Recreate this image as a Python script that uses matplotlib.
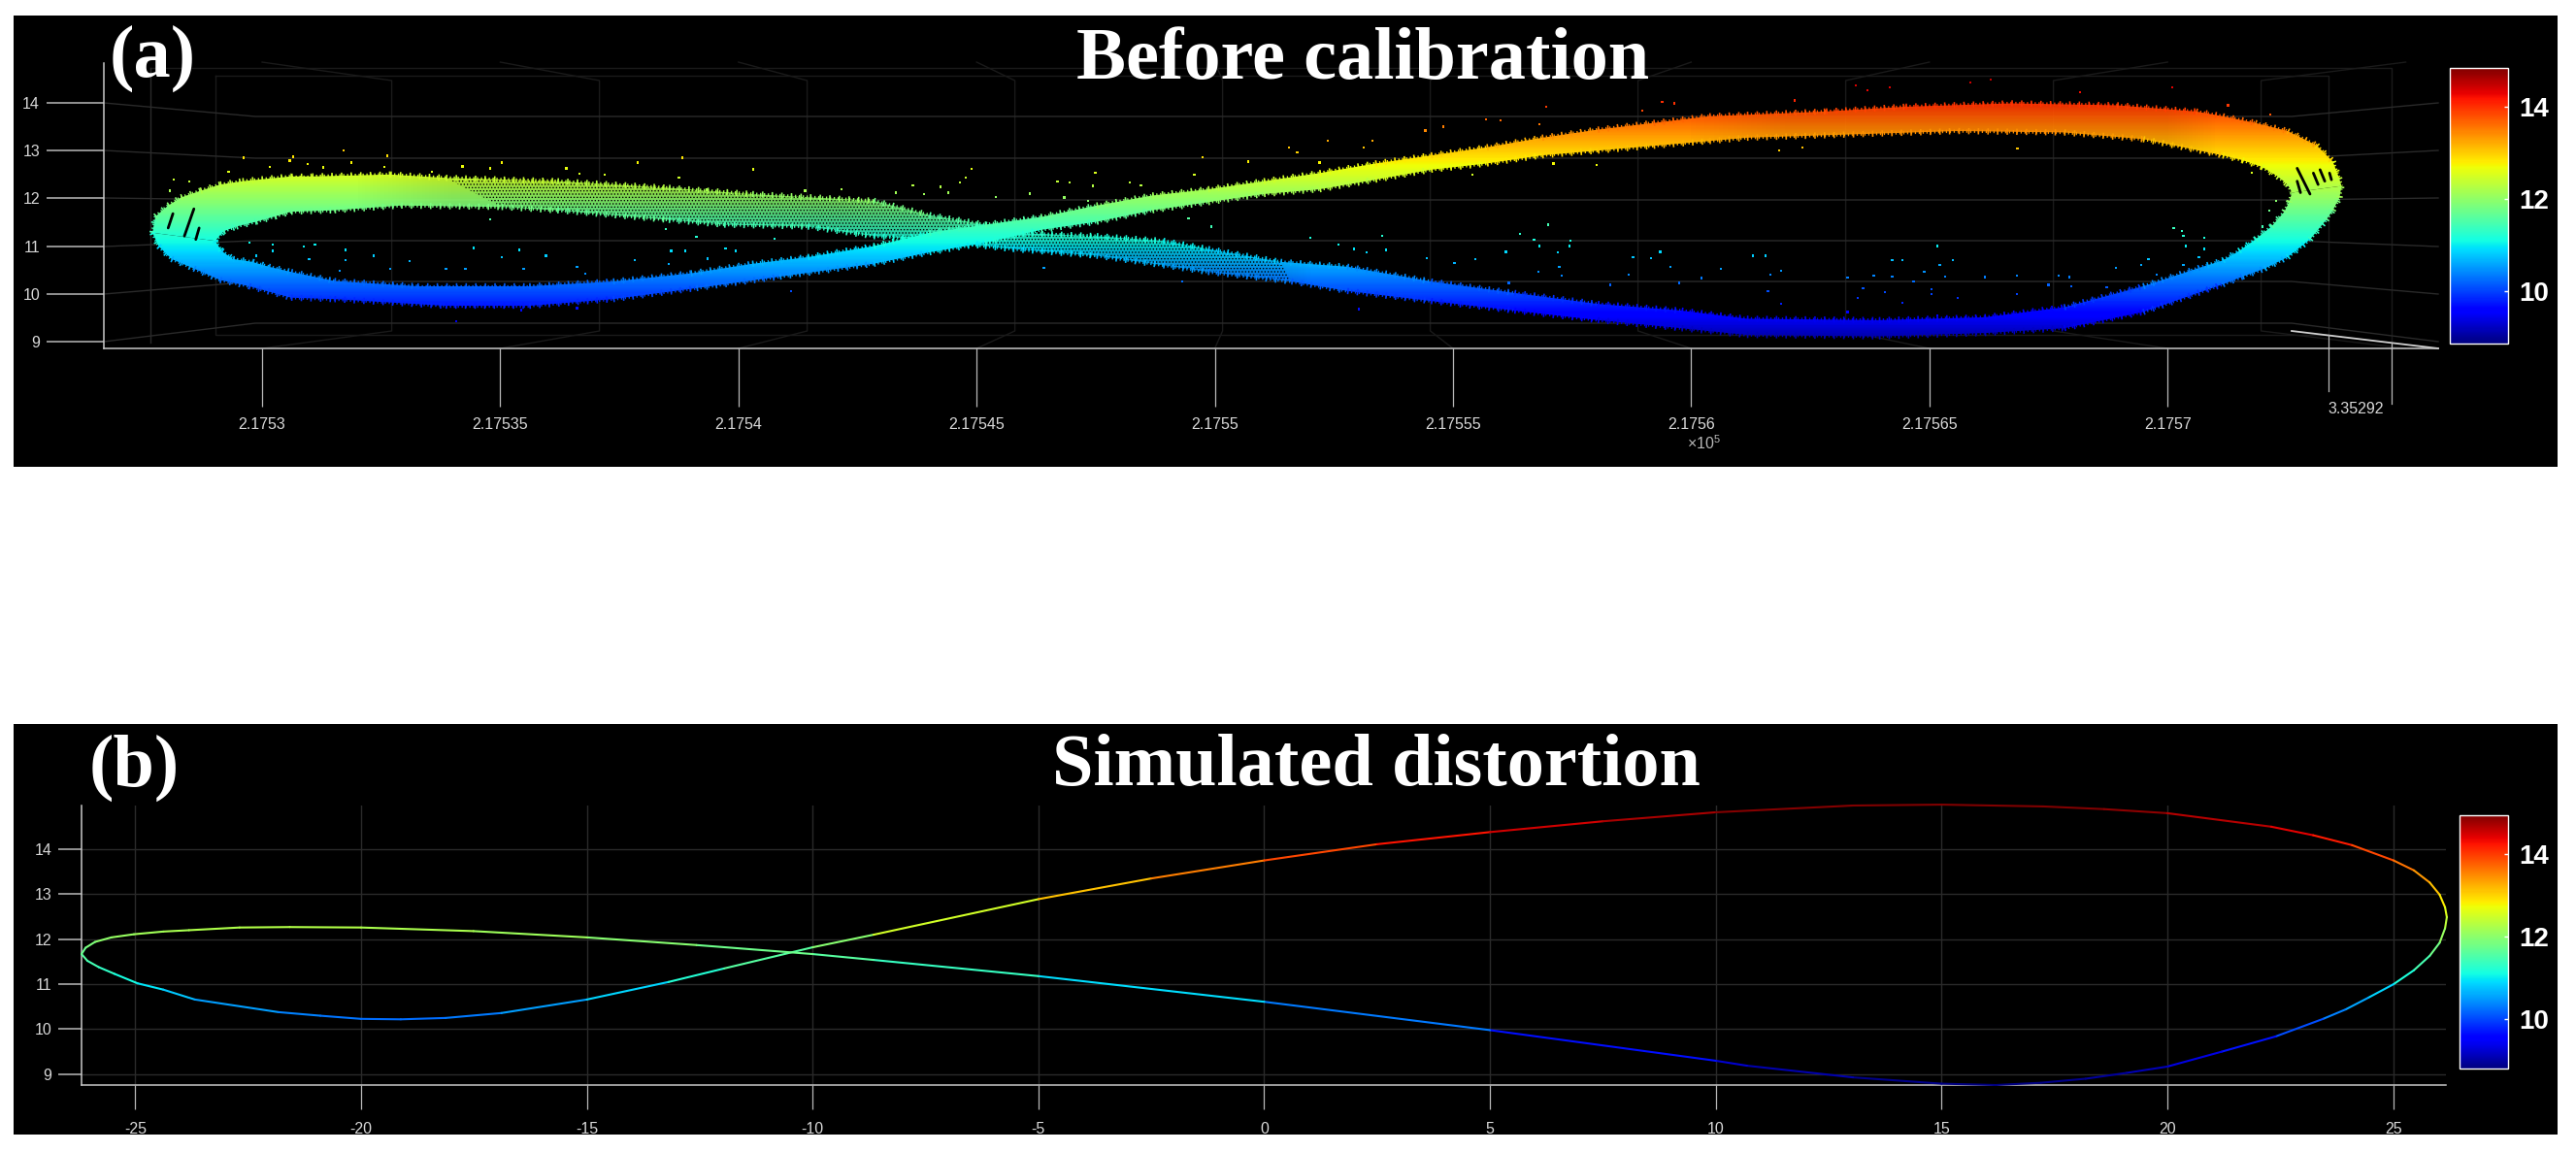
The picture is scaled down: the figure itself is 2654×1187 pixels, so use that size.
import numpy as np
import matplotlib
matplotlib.use('Agg')
import matplotlib.pyplot as plt
from matplotlib.collections import LineCollection
from matplotlib.colors import Normalize
from matplotlib.cm import ScalarMappable
from matplotlib.patches import PathPatch, Rectangle
from matplotlib.path import Path

plt.rcParams['font.family'] = ['Liberation Sans', 'DejaVu Sans']
plt.rcParams['mathtext.default'] = 'regular'
plt.rcParams['axes.unicode_minus'] = False
plt.rcParams['hatch.linewidth'] = 0.6

# (a) easting is metres from 217530, height is the z axis
x_ticks_a = [0, 5, 10, 15, 20, 25, 30, 35, 40]
x_labels_a = ['2.1753', '2.17535', '2.1754', '2.17545', '2.1755', '2.17555', '2.1756', '2.17565', '2.1757']
y_ticks = [9, 10, 11, 12, 13, 14]

# band edges of the branch that leaves the left tip upwards and ends low on the right
fall_top_x = [-2.3, -2.24, -1.97, -1.7, -1.29, -0.88, -0.41, 0.61, 1.05, 2.69, 3.86, 6.20, 8.54, 10.29, 12.84, 14.01,
              15.18, 15.76, 17.52, 18.92, 19.86, 21.38, 22.78, 24.54, 26.29, 28.04, 29.80, 31.17, 33.94, 36.16, 37.83,
              39.49, 40.83, 41.16, 41.5, 41.84, 42.18, 42.45, 42.55, 42.61]
fall_top_y = [11.28, 11.62, 11.85, 12.02, 12.16, 12.29, 12.36, 12.46, 12.46, 12.50, 12.43, 12.36, 12.22, 12.09, 11.95, 11.65,
              11.45, 11.28, 11.21, 11.11, 10.94, 10.67, 10.57, 10.26, 10.02, 9.79, 9.65, 9.48, 9.45, 9.51, 9.72,
              10.16, 10.6, 10.7, 10.9, 11.14, 11.41, 11.72, 11.92, 12.12]
fall_low_x = [-0.98, -0.81, -0.54, -0.13, 0.27, 0.61, 1.52, 2.92, 5.03, 6.20, 8.54, 9.70, 11.46, 12.84, 14.01, 15.18, 15.76,
              17.52, 18.92, 19.86, 21.61, 22.78, 24.54, 26.29, 28.04, 29.8, 31.17, 33.94, 36.16, 37.83, 39.49,
              41.16, 41.57, 42.04, 42.52, 42.99, 43.33, 43.47, 43.61, 43.65]
fall_low_y = [11.11, 11.31, 11.41, 11.51, 11.62, 11.72, 11.75, 11.85, 11.82, 11.75, 11.55, 11.45, 11.41, 11.21, 11.14, 11.0, 10.94,
              10.80, 10.6, 10.46, 10.26, 10.06, 9.85, 9.65, 9.45, 9.28, 9.14, 9.11, 9.18, 9.28, 9.62,
              10.2, 10.36, 10.53, 10.77, 11.14, 11.55, 11.75, 12.02, 12.26]
fall_dens_x = [-3, 2, 4, 12, 16, 18, 21, 22, 46]
fall_dens = [1, 1, 0.9, 0.8, 0.85, 0.8, 0.9, 1, 1]

# band edges of the branch that leaves the left tip downwards and ends high on the right
rise_top_x = [-0.98, -0.85, -0.61, -0.2, 0.14, 0.61, 1.52, 3.27, 5.61, 7.37, 9.0, 10.29, 11.46, 12.84, 14.01, 15.18, 16.35,
              17.52, 18.69, 19.86, 21.03, 22.2, 23.37, 24.54, 25.71, 26.87, 28.04, 29.21, 30.38, 31.17,
              32.83, 34.5, 36.72, 38.94, 40.6, 41.16, 41.84, 42.52, 43.13, 43.47, 43.6, 43.65]
rise_top_y = [11.11, 10.9, 10.73, 10.67, 10.57, 10.46, 10.27, 10.16, 10.16, 10.26, 10.43, 10.63, 10.77, 11.0, 11.28, 11.45, 11.61,
              11.85, 12.06, 12.19, 12.36, 12.53, 12.73, 12.9, 13.07, 13.27, 13.44, 13.58, 13.72, 13.75,
              13.82, 13.92, 13.99, 13.95, 13.82, 13.72, 13.58, 13.41, 13.11, 12.77, 12.43, 12.26]
rise_low_x = [-2.3, -2.17, -1.9, -1.43, -0.88, -0.27, 0.61, 1.52, 3.86, 5.61, 7.37, 9.12, 10.87, 12.84, 14.01, 15.18, 16.35,
              17.52, 18.69, 19.86, 21.03, 22.2, 23.37, 24.54, 25.71, 26.87, 28.04, 29.21, 30.38, 31.17,
              33.39, 35.61, 37.83, 39.49, 41.16, 41.57, 41.98, 42.31, 42.52, 42.61]
rise_low_y = [11.28, 11.0, 10.73, 10.53, 10.29, 10.16, 9.92, 9.89, 9.75, 9.75, 9.89, 10.12, 10.36, 10.63, 10.87, 11.07, 11.34,
              11.51, 11.75, 11.92, 12.09, 12.19, 12.39, 12.6, 12.73, 12.9, 13.0, 13.1, 13.2, 13.27,
              13.34, 13.41, 13.38, 13.24, 12.9, 12.8, 12.66, 12.46, 12.29, 12.12]
rise_dens_x = [-3, 30, 32, 40, 41, 46]
rise_dens = [1, 1, 0.92, 0.92, 1, 1]

# holes in the cloud at both tips
gap_x = [[-1.87, -1.97], [-1.43, -1.63], [-1.32, -1.39], [42.72, 42.99], [42.72, 42.79], [43.06, 43.16], [43.2, 43.3], [43.4, 43.44]]
gap_y = [[11.68, 11.38], [11.78, 11.21], [11.38, 11.14], [12.63, 12.09], [12.36, 12.12], [12.53, 12.29], [12.6, 12.36], [12.53, 12.39]]

# single points lying off the band
stray_x = [1.72, 0.66, -0.38, 2.63, 5.03, 8.83, 7.89, 10.31, 1.87, 0.58, -0.7, 0.17, 0.96, 1.28, 2.57, 3.56, 4.21,
           4.79, 6.39, 6.66, 7.19, 8.75, 9.33, 11.4, 12.16, -1.85, -1.52, -1.93,
           -0.27, 0.23, 0.23, 0.87, 1.11, 1.75, 5.4, 4.44, 5.03, 5.96, 8.59, 8.89, 9.73, 9.94, 9.12, 10.76, 8.48,
           4.79, 7.83, 8.54, 9.35, -0.12, 0.99, 1.75, 2.34, 3.1, 3.86, 4.27, 5.49, 6.61, 6.78, 2.69, 1.63, 11.11,
           4.07, 5.44, 6.61,
           14.89, 17.49, 16.7, 16.96, 14.77, 14.65, 14.24, 13.66, 13.31, 13.89, 14.4, 15.41, 16.11, 16.84, 17.34,
           17.44, 18.22, 18.45, 19.57, 19.74, 20.7, 21.55, 21.73, 22.37, 23.31, 23.13, 22.2, 24.42, 24.79, 25.7,
           26.0, 26.82, 26.96, 29.39, 29.65, 28.98, 28.01, 27.11, 25.41, 19.92, 19.45, 22.0, 23.51, 22.6, 22.92,
           23.6, 23.19, 26.99, 26.41, 26.7, 27.46, 27.44, 26.82, 27.2, 26.11, 25.03, 25.47, 24.45, 27.23, 26.79,
           26.17, 27.28, 28.3, 28.78, 29.16, 29.35, 29.57, 29.74, 30.21, 30.62, 28.69, 19.31, 16.41, 23.02,
           33.45, 34.17, 33.7, 35.86, 36.28, 40.1, 38.16, 32.17, 42.16, 41.27, 36.85, 32.34, 31.84, 41.77, 42.27,
           42.14, 41.99, 40.13, 40.3, 40.33, 40.77, 40.38, 40.77, 40.66, 39.6, 38.91, 39.44, 39.77, 40.33, 35.17,
           35.22, 35.5, 34.22, 34.44, 31.56, 31.3, 31.89, 31.67, 34.22, 33.28, 33.83, 34.89, 35.33, 36.16, 36.83,
           37.72, 37.94, 37.5, 37.98, 38.72, 34.67, 35.05, 31.61, 33.61, 34.06, 33.5, 34.44, 35.05, 35.59, 36.83,
           31.89, 33.28, 35.17]
stray_y = [13.0, 12.87, 12.85, 12.89, 12.75, 12.85, 12.75, 12.61, 12.75, 12.79, 12.56, 12.66, 12.72, 12.65, 12.66, 12.56, 12.67,
           12.63, 12.63, 12.52, 12.5, 12.44, 12.18, 12.16, 12.19, 12.39, 12.36, 12.16,
           11.07, 11.03, 10.9, 10.99, 11.03, 10.92, 10.92, 10.96, 10.77, 10.8, 10.9, 10.9, 10.95, 10.9, 11.2, 11.15, 11.36,
           11.56, 10.71, 10.63, 10.74, 10.8, 10.73, 10.7, 10.8, 10.68, 10.53, 10.53, 10.53, 10.56, 10.43, 10.53, 10.48, 10.06,
           9.43, 9.66, 9.7,
           12.62, 12.53, 12.35, 12.33, 12.43, 12.33, 12.24, 12.27, 12.12, 12.09, 12.12, 12.03, 12.1, 12.02, 11.95,
           12.26, 12.33, 12.28, 12.5, 12.86, 12.77, 13.06, 12.97, 13.21, 13.21, 13.06, 12.75, 13.42, 13.5, 13.65,
           13.63, 13.55, 13.92, 14.02, 13.99, 13.84, 12.7, 12.73, 12.5, 11.41, 11.58, 11.17, 11.21, 11.04, 10.94,
           10.92, 10.87, 11.45, 11.26, 11.14, 11.11, 11.0, 11.0, 10.87, 10.88, 10.65, 10.73, 10.75, 10.56, 10.46,
           10.23, 10.38, 10.19, 10.77, 10.75, 10.88, 10.56, 10.23, 10.33, 10.53, 10.41, 10.26, 10.55, 9.68,
           14.37, 14.32, 14.26, 14.43, 14.49, 14.32, 14.22, 14.05, 13.75, 13.95, 13.04, 13.07, 13.0, 12.54, 11.95,
           11.75, 11.41, 11.38, 11.31, 11.21, 11.17, 11.0, 10.94, 10.77, 10.73, 10.54, 10.6, 10.4, 10.6, 11.0,
           10.6, 10.7, 10.71, 10.71, 10.8, 10.8, 10.48, 10.4, 10.36, 10.34, 10.38, 10.46, 10.36, 10.35, 10.38,
           10.38, 10.35, 10.19, 10.16, 10.14, 10.26, 10.09, 10.06, 10.12, 10.04, 9.92, 9.82, 9.99, 9.91, 9.99,
           9.79, 9.62, 9.55]

# (b) simulated curve, walked once round from the left tip
sim_x = [-26.19, -26.06, -25.81, -25.46, -24.95, -24.38, -23.81, -23.68, -21.83, -20.9, -20, -19.12, -18.13, -16.89, -15,
         -13.19, -11.96, -10, -8.65, -5, -2.5, 0, 2.5, 5, 7.5, 10, 13.04, 15, 17.25, 18.6, 20, 22.3, 23.23, 24.09, 25.01,
         25.46, 25.81, 26.03, 26.15, 26.19, 26.15, 26.03, 25.81, 25.46, 25.01, 24.45, 23.95, 23.45, 22.4, 21.2, 20, 19.1,
         18.19, 17.2, 16.2, 15, 13.04, 10.69, 10, 5, 0, -5, -8.65, -10, -12.57, -15, -17.51, -20, -21.58, -22.69, -23.81,
         -24.38, -25.03, -25.53, -25.89, -26.10, -26.19]
sim_y = [11.67, 11.52, 11.38, 11.23, 11.02, 10.88, 10.70, 10.66, 10.38, 10.30, 10.23, 10.22, 10.25, 10.36, 10.66,
         11.05, 11.35, 11.82, 12.1, 12.89, 13.35, 13.75, 14.11, 14.38, 14.62, 14.82, 14.97, 14.99, 14.95, 14.89, 14.80, 14.50,
         14.31, 14.09, 13.75, 13.53, 13.26, 12.99, 12.71, 12.49, 12.24, 11.92, 11.63, 11.31, 11.0, 10.70, 10.44, 10.23,
         9.84, 9.50, 9.17, 9.03, 8.90, 8.81, 8.76, 8.79, 8.93, 9.19, 9.30, 9.98, 10.61, 11.18, 11.54, 11.67, 11.87, 12.04,
         12.18, 12.26, 12.27, 12.26, 12.20, 12.17, 12.11, 12.04, 11.94, 11.81, 11.67]
x_ticks_b = [-25, -20, -15, -10, -5, 0, 5, 10, 15, 20, 25]

cbar_ticks = [10, 12, 14]
norm_a = Normalize(8.86, 14.84)
norm_b = Normalize(8.8, 14.94)
cmap = plt.get_cmap('jet')

W, H = 2654, 1187
fig = plt.figure(figsize=(W / 100, H / 100), dpi=100, facecolor='white')


def add_ax(left, top, right, bottom):
    return fig.add_axes([left / W, 1 - bottom / H, (right - left) / W, (bottom - top) / H])


def colored_segments(xs, ys, norm, lw, dash=None):
    pts = np.column_stack([xs, ys])
    segs = np.stack([pts[:-1], pts[1:]], axis=1)
    style = 'solid' if dash is None else [(0, dash)]
    lc = LineCollection(segs, cmap=cmap, norm=norm, linewidths=lw, linestyles=style, zorder=2)
    lc.set_array((pts[:-1, 1] + pts[1:, 1]) / 2)
    return lc


# pixel canvas for the black panels and the 3d box lines
bg = fig.add_axes([0, 0, 1, 1])
bg.set_xlim(0, W)
bg.set_ylim(H, 0)
bg.axis('off')
bg.add_patch(Rectangle((14, 16), 2621, 465, color='black', lw=0))
bg.add_patch(Rectangle((14, 746), 2621, 423, color='black', lw=0))

faint = '#1a1a1a'
mid = '#2a2a2a'
for i in range(10):
    tx = 270 + 245.4 * i
    bx = 403.6 + 214 * i
    bg.plot([tx, bx, bx, tx], [359, 341, 83, 64], color=faint, lw=1)
bg.plot([155, 2464, 2464], [70, 70, 353], color=faint, lw=1)
bg.plot([155, 155], [70, 353], color=mid, lw=1)
bg.plot([222, 2399, 2399, 222, 222], [78, 78, 345, 345, 78], color=faint, lw=1)
for left_y, back_y in zip([352, 303, 254, 204, 155, 106], [333, 290, 248, 206, 163, 120]):
    bg.plot([107, 263, 2361, 2512], [left_y, back_y, back_y, left_y], color=mid, lw=1)

# panel (a)
ax = add_ax(107, 65, 2512, 359)
ax.patch.set_alpha(0)
xlim_a = (-3.32, 45.68)
ylim_a = (8.858, 14.833)
gx = np.linspace(xlim_a[0], xlim_a[1], 1600)
gy = np.linspace(ylim_a[0], ylim_a[1], 600)


def band_path(tx, ty, lx, ly, x0=-99, x1=99):
    up = [p for p in zip(tx, ty) if x0 <= p[0] <= x1]
    low = [p for p in zip(lx, ly) if x0 <= p[0] <= x1]
    verts = up + low[::-1]
    return Path(verts + [verts[0]], closed=True)


for top_x, top_y, low_x, low_y, dx, dens, speck in [
        (fall_top_x, fall_top_y, fall_low_x, fall_low_y, fall_dens_x, fall_dens, [(3.5, 22.5, '.....')]),
        (rise_top_x, rise_top_y, rise_low_x, rise_low_y, rise_dens_x, rise_dens, [])]:
    rgba = cmap(norm_a(gy))[:, None, :].repeat(len(gx), axis=1)
    rgba[:, :, 3] = np.interp(gx, dx, dens)
    im = ax.imshow(rgba, extent=[xlim_a[0], xlim_a[1], ylim_a[0], ylim_a[1]], origin='lower',
                   aspect='auto', interpolation='nearest', zorder=2)
    path = band_path(top_x, top_y, low_x, low_y)
    clip = PathPatch(path, transform=ax.transData, fc='none', ec='none')
    ax.add_patch(clip)
    im.set_clip_path(clip)
    # thinned stretch of the cloud
    for x0, x1, hatch in speck:
        ax.add_patch(PathPatch(band_path(top_x, top_y, low_x, low_y, x0, x1),
                               fc='none', ec='black', lw=0, hatch=hatch, zorder=2))
    # frayed edge of the cloud
    for ex, ey in [(top_x, top_y), (low_x, low_y)]:
        ax.add_collection(colored_segments(ex, ey, norm_a, 2.4, (0.4, 0.8)))
        ax.add_collection(colored_segments(ex, ey, norm_a, 4.6, (0.25, 1.3)))

for gxs, gys in zip(gap_x, gap_y):
    ax.plot(gxs, gys, color='black', lw=2, zorder=3, solid_capstyle='round')
ax.scatter(stray_x, stray_y, c=stray_y, cmap=cmap, norm=norm_a, s=2.6, marker='s', lw=0, zorder=4)

ax.set_xlim(xlim_a)
ax.set_ylim(ylim_a)
ax.set_xticks(x_ticks_a)
ax.set_xticklabels(x_labels_a)
ax.set_yticks(y_ticks)
ax.tick_params(axis='x', length=43.2, width=0.9, color='#b8b8b8', labelcolor='#d8d8d8', labelsize=11.5, pad=8)
ax.tick_params(axis='y', length=42.5, width=1.1, color='#b8b8b8', labelcolor='#d8d8d8', labelsize=11.5, pad=5)
for s in ['top', 'right']:
    ax.spines[s].set_visible(False)
for s in ['left', 'bottom']:
    ax.spines[s].set_color('#c8c8c8')
    ax.spines[s].set_linewidth(1.1)

# depth axis stub at the lower right
bg.plot([2361, 2512], [341, 359], color='#d0d0d0', lw=1.3)
bg.plot([2399, 2399], [345, 403], color='#b8b8b8', lw=0.9)
bg.plot([2464, 2464], [353, 416], color='#b8b8b8', lw=0.9)
bg.text(2427, 422, '3.35292', color='#d8d8d8', fontsize=11.5, ha='center', va='center')
bg.text(1755, 457, '×10$^{5}$', color='#b8b8b8', fontsize=11.5, ha='center', va='center')

cax = add_ax(2524, 70, 2584, 354)
cb = fig.colorbar(ScalarMappable(norm_a, cmap), cax=cax, ticks=cbar_ticks)
cb.outline.set_edgecolor('white')
cb.outline.set_linewidth(1)
cax.tick_params(length=3, width=1, color='white', direction='in', labelcolor='white', labelsize=20, pad=8)
for lab in cax.get_yticklabels():
    lab.set_fontweight('bold')

# panel (b)
ax2 = add_ax(84, 830, 2520, 1118)
ax2.patch.set_alpha(0)
lc = colored_segments(sim_x, sim_y, norm_b, 1.5)
lc.set_capstyle('round')
lc.set_clip_on(False)
lc.set_zorder(3)
ax2.add_collection(lc)
ax2.set_xlim(-26.19, 26.17)
ax2.set_ylim(8.76, 14.97)
ax2.set_xticks(x_ticks_b)
ax2.set_yticks(y_ticks)
ax2.grid(True, color='#2a2a2a', lw=1)
ax2.set_axisbelow(True)
ax2.tick_params(axis='x', length=18, width=0.9, color='#b8b8b8', labelcolor='#d8d8d8', labelsize=11.5, pad=9)
ax2.tick_params(axis='y', length=17, width=1.1, color='#b8b8b8', labelcolor='#d8d8d8', labelsize=11.5, pad=5)
for s in ['top', 'right']:
    ax2.spines[s].set_visible(False)
for s in ['left', 'bottom']:
    ax2.spines[s].set_color('#c8c8c8')
    ax2.spines[s].set_linewidth(1.1)

cax2 = add_ax(2534, 840, 2584, 1101)
cb2 = fig.colorbar(ScalarMappable(norm_b, cmap), cax=cax2, ticks=cbar_ticks)
cb2.outline.set_edgecolor('white')
cb2.outline.set_linewidth(1)
cax2.tick_params(length=3, width=1, color='white', direction='in', labelcolor='white', labelsize=20, pad=8)
for lab in cax2.get_yticklabels():
    lab.set_fontweight('bold')

# titles go on top of everything
top = fig.add_axes([0, 0, 1, 1])
top.set_xlim(0, W)
top.set_ylim(H, 0)
top.axis('off')
serif = dict(family='Liberation Serif', weight='bold', color='white', ha='center', va='center')
top.text(1404, 63, 'Before calibration', fontsize=55, **serif)
top.text(157, 60, '(a)', fontsize=55, **serif)
top.text(1418, 790, 'Simulated distortion', fontsize=55, **serif)
top.text(138, 791, '(b)', fontsize=55, **serif)

fig.savefig('out.png', dpi=100, facecolor='white')
